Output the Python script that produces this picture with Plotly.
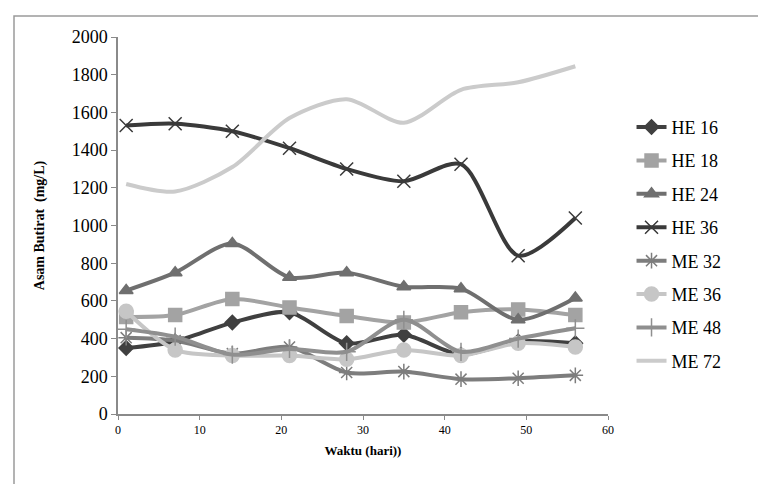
import plotly.graph_objects as go

days = [1, 7, 14, 21, 28, 35, 42, 49, 56]
series_names = ["HE 16", "HE 18", "HE 24", "HE 36", "ME 32", "ME 36", "ME 48", "ME 72"]
he16 = [350, 385, 485, 540, 375, 420, 315, 385, 375]
he18 = [515, 525, 610, 565, 520, 485, 540, 555, 525]
he24 = [655, 750, 905, 725, 750, 675, 665, 500, 615]
he36 = [1530, 1540, 1500, 1410, 1300, 1235, 1325, 840, 1040]
me32 = [405, 390, 320, 355, 220, 225, 185, 190, 205]
me36 = [545, 340, 310, 310, 290, 340, 310, 375, 355]
me48 = [450, 410, 315, 345, 330, 500, 330, 400, 455]
me72 = [1220, 1180, 1310, 1570, 1670, 1545, 1720, 1760, 1845]
x_ticks = [0, 10, 20, 30, 40, 50, 60]
y_ticks = [0, 200, 400, 600, 800, 1000, 1200, 1400, 1600, 1800, 2000]

values = [he16, he18, he24, he36, me32, me36, me48, me72]
colors = ["#404040", "#a3a3a3", "#6f6f6f", "#3a3a3a", "#7d7d7d", "#c6c6c6", "#8f8f8f", "#cbcbcb"]
symbols = ["diamond", "square", "triangle-up", "x-thin-open", "asterisk-open", "circle", "cross-thin-open", None]
sizes = [11, 13, 12, 13, 13, 14, 13, 0]

fig = go.Figure()
for i, (name, vals) in enumerate(zip(series_names, values)):
    mode = "lines+markers" if symbols[i] else "lines"
    marker = dict(color=colors[i], size=sizes[i], symbol=symbols[i] or "circle",
                  line=dict(color=colors[i], width=1.5))
    fig.add_trace(go.Scatter(
        x=days, y=vals, name=name, mode=mode,
        line=dict(color=colors[i], width=4, shape="spline", smoothing=0.8),
        marker=marker, legendgroup=name,
    ))

font_serif = "Liberation Serif"
fig.update_layout(
    width=766, height=484,
    margin=dict(l=110, r=166, t=29, b=78),
    paper_bgcolor="white", plot_bgcolor="white",
    showlegend=True,
    legend=dict(x=1.048, y=0.45, yanchor="middle", xanchor="left",
                font=dict(family=font_serif, size=18, color="black"),
                tracegroupgap=7, bgcolor="rgba(0,0,0,0)"),
    xaxis=dict(range=[0, 60], tickvals=x_ticks, showgrid=False, zeroline=False,
               showline=True, linecolor="#8a8a8a", linewidth=1.5,
               ticks="outside", ticklen=4, tickcolor="#8a8a8a",
               tickfont=dict(family=font_serif, size=12, color="black"),
               title=dict(text="<b>Waktu (hari))</b>", font=dict(family=font_serif, size=13, color="black"), standoff=10)),
    yaxis=dict(range=[0, 2000], tickvals=y_ticks, showgrid=False, zeroline=False,
               showline=True, linecolor="#8a8a8a", linewidth=1.5,
               ticks="outside", ticklen=5, tickcolor="#8a8a8a",
               tickfont=dict(family=font_serif, size=18, color="black"),
               title=dict(text="<b>Asam Butirat  (mg/L)</b>", font=dict(family=font_serif, size=14, color="black"), standoff=24)),
)
fig.add_shape(type="rect", xref="paper", yref="paper",
              x0=(6 - 110) / 490, x1=(757 - 110) / 490,
              y0=(406 - 478) / 377, y1=(406 - 8) / 377,
              line=dict(color="#9a9a9a", width=1.5), layer="below")
fig.write_html("out.html")
